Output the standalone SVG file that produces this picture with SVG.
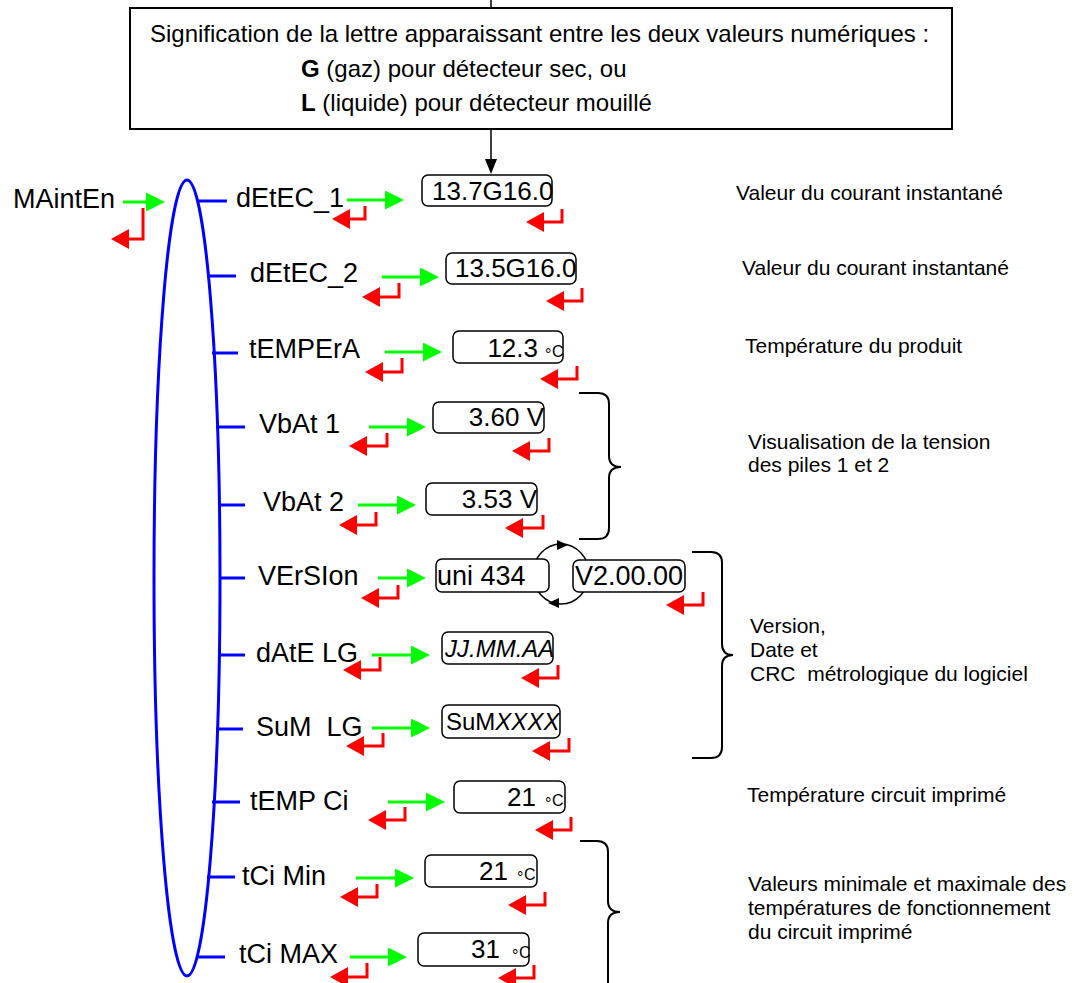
<svg xmlns="http://www.w3.org/2000/svg" width="1074" height="983" viewBox="0 0 1074 983">
<style>
text{font-family:"Liberation Sans",Arial,sans-serif;fill:#000}
.lbl{font-size:27px}
.val{font-size:26px}
.deg{font-size:16px}
.note{font-size:21px}
.top{font-size:24px}
.g{stroke:#00ff00;stroke-width:3;fill:none;marker-end:url(#gh)}
.r{stroke:#ff0000;stroke-width:3;fill:none;marker-end:url(#rh)}
.tick{stroke:#0000ff;stroke-width:3;fill:none}
.box{fill:#fff;stroke:#000;stroke-width:1.5}
.brace{fill:none;stroke:#000;stroke-width:2}
</style>
<defs>
<marker id="gh" markerUnits="userSpaceOnUse" viewBox="0 0 19 19" markerWidth="19" markerHeight="19" refX="9" refY="9.5" orient="auto"><path d="M0,0 L19,9.5 L0,19 z" fill="#00ff00"/></marker>
<marker id="rh" markerUnits="userSpaceOnUse" viewBox="0 0 18 20" markerWidth="18" markerHeight="20" refX="8" refY="10" orient="auto"><path d="M0,0 L18,10 L0,20 z" fill="#ff0000"/></marker>
<marker id="bh" markerUnits="userSpaceOnUse" viewBox="0 0 15 12" markerWidth="15" markerHeight="12" refX="7" refY="6" orient="auto"><path d="M0,0 L15,6 L0,12 z" fill="#000"/></marker>
</defs>

<g id="legend-box">
<line x1="491" y1="0" x2="491" y2="8" stroke="#000" stroke-width="1.5"/>
<rect x="130" y="8" width="822" height="121" fill="#fff" stroke="#000" stroke-width="2"/>
<text class="top" x="150" y="42">Signification de la lettre apparaissant entre les deux valeurs numériques :</text>
<text class="top" x="301" y="77"><tspan font-weight="bold">G</tspan> (gaz) pour détecteur sec, ou</text>
<text class="top" x="301" y="111"><tspan font-weight="bold">L</tspan> (liquide) pour détecteur mouillé</text>
</g>

<g id="menu">
<text class="lbl" x="13" y="208">MAintEn</text>
<ellipse cx="187" cy="578" rx="33" ry="398" fill="none" stroke="#0000ff" stroke-width="3"/>
</g>

<g id="connectors">
<line x1="491" y1="129" x2="491" y2="166" stroke="#000" stroke-width="1.5" marker-end="url(#bh)"/>
<path class="tick" d="M198,201 H227 M207,276 H236 M212,353 H238 M216,427 H245 M218,505 H245 M219,578 H245 M218,655 H245 M216,729 H243 M212,802 H240 M207,877 H235 M198,957 H225"/>
<path class="g" d="M123,202 H155"/>
<path class="g" d="M347,200 H394"/>
<path class="g" d="M382,277 H429"/>
<path class="g" d="M385,352 H432"/>
<path class="g" d="M369,427 H416"/>
<path class="g" d="M358,505 H406"/>
<path class="g" d="M378,578 H416"/>
<path class="g" d="M372,655 H420"/>
<path class="g" d="M372,728 H420"/>
<path class="g" d="M388,802 H435"/>
<path class="g" d="M356,878 H404"/>
<path class="g" d="M350,957 H397"/>
<path class="r" d="M143,208 V239 H121"/>
<path class="r" d="M365,206 V219 H342"/>
<path class="r" d="M562,209 V222 H536"/>
<path class="r" d="M399,283 V297 H372"/>
<path class="r" d="M582,288 V301 H556"/>
<path class="r" d="M402,358 V372 H375"/>
<path class="r" d="M577,366 V379 H550"/>
<path class="r" d="M387,433 V446 H359"/>
<path class="r" d="M549,438 V451 H522"/>
<path class="r" d="M376,512 V525 H349"/>
<path class="r" d="M543,515 V528 H515"/>
<path class="r" d="M398,585 V598 H371"/>
<path class="r" d="M703,592 V605 H676"/>
<path class="r" d="M380,657 V670 H353"/>
<path class="r" d="M558,665 V678 H531"/>
<path class="r" d="M383,733 V746 H356"/>
<path class="r" d="M569,738 V751 H542"/>
<path class="r" d="M405,807 V820 H378"/>
<path class="r" d="M571,817 V830 H545"/>
<path class="r" d="M377,884 V897 H350"/>
<path class="r" d="M545,892 V905 H518"/>
<path class="r" d="M367,963 V977 H340"/>
<path class="r" d="M534,965 V978 H508"/>
<ellipse cx="561" cy="574" rx="28" ry="30" fill="none" stroke="#000" stroke-width="1.5"/>
<path d="M557,540 L568,545 L557,550 z" fill="#000"/>
<path d="M559,598 L548,603 L559,608 z" fill="#000"/>
</g>

<g id="row1">
<text class="lbl" x="236" y="207">dEtEC_1</text>
<rect class="box" x="422" y="175" width="130" height="31" rx="6"/>
<text class="val" x="432" y="200">13.7G16.0</text>
</g>
<g id="row2">
<text class="lbl" x="250" y="282">dEtEC_2</text>
<rect class="box" x="446" y="253" width="130" height="31" rx="6"/>
<text class="val" x="455" y="277">13.5G16.0</text>
</g>
<g id="row3">
<text class="lbl" x="249" y="358">tEMPErA</text>
<rect class="box" x="453" y="331" width="110" height="32" rx="6"/>
<text class="val" x="538" y="357" text-anchor="end">12.3</text>
<text class="deg" x="545" y="360">°</text>
<text class="deg" x="552" y="357">C</text>
</g>
<g id="row4">
<text class="lbl" x="259" y="433">VbAt 1</text>
<rect class="box" x="433" y="402" width="111" height="31" rx="6"/>
<text class="val" x="544" y="426" text-anchor="end">3.60 V</text>
</g>
<g id="row5">
<text class="lbl" x="263" y="511">VbAt 2</text>
<rect class="box" x="426" y="483" width="111" height="32" rx="6"/>
<text class="val" x="537" y="508" text-anchor="end">3.53 V</text>
</g>
<g id="row6">
<text class="lbl" x="258" y="585">VErSIon</text>
<rect class="box" x="436" y="559" width="113" height="33" rx="6"/>
<text class="val" x="437" y="585" style="font-size:27px">uni 434</text>
<rect class="box" x="573" y="560" width="112" height="32" rx="6"/>
<text class="val" x="575" y="585" style="font-size:27px">V2.00.00</text>
</g>
<g id="row7">
<text class="lbl" x="256" y="662">dAtE LG</text>
<rect class="box" x="442" y="632" width="111" height="32" rx="6"/>
<text class="val" x="445" y="657" style="font-size:24px;font-style:italic">JJ.MM.AA</text>
</g>
<g id="row8">
<text class="lbl" x="256" y="736" xml:space="preserve">SuM  LG</text>
<rect class="box" x="442" y="705" width="118" height="33" rx="6"/>
<text class="val" x="446" y="730" style="font-size:24px">SuM<tspan style="font-style:italic">XXXX</tspan></text>
</g>
<g id="row9">
<text class="lbl" x="250" y="810">tEMP Ci</text>
<rect class="box" x="454" y="781" width="111" height="32" rx="6"/>
<text class="val" x="536" y="806" text-anchor="end">21</text>
<text class="deg" x="545" y="809">°</text>
<text class="deg" x="552" y="806">C</text>
</g>
<g id="row10">
<text class="lbl" x="242" y="885">tCi Min</text>
<rect class="box" x="425" y="855" width="112" height="32" rx="6"/>
<text class="val" x="508" y="880" text-anchor="end">21</text>
<text class="deg" x="517" y="883">°</text>
<text class="deg" x="524" y="880">C</text>
</g>
<g id="row11">
<text class="lbl" x="239" y="963">tCi MAX</text>
<rect class="box" x="418" y="933" width="111" height="33" rx="6"/>
<text class="val" x="500" y="958" text-anchor="end">31</text>
<text class="deg" x="512" y="961">°</text>
<text class="deg" x="519" y="958">C</text>
</g>

<g id="notes">
<text class="note" x="736" y="200">Valeur du courant instantané</text>
<text class="note" x="742" y="275">Valeur du courant instantané</text>
<text class="note" x="745" y="353">Température du produit</text>
<path class="brace" d="M579,393 H598 Q609,393 609,404 V456 Q609,467 621,467 Q609,467 609,478 V528 Q609,539 598,539 H579"/>
<text class="note" x="748" y="449">Visualisation de la tension</text>
<text class="note" x="748" y="472">des piles 1 et 2</text>
<path class="brace" d="M692,552 H711 Q722,552 722,563 V644 Q722,655 733,655 Q722,655 722,666 V747 Q722,758 711,758 H692"/>
<text class="note" x="750" y="633">Version,</text>
<text class="note" x="750" y="657">Date et</text>
<text class="note" x="750" y="681" xml:space="preserve">CRC  métrologique du logiciel</text>
<text class="note" x="747" y="802">Température circuit imprimé</text>
<path class="brace" d="M580,841 H597 Q608,841 608,852 V901 Q608,912 620,912 Q608,912 608,923 V990"/>
<text class="note" x="748" y="891">Valeurs minimale et maximale des</text>
<text class="note" x="748" y="915">températures de fonctionnement</text>
<text class="note" x="748" y="939">du circuit imprimé</text>
</g>
</svg>
